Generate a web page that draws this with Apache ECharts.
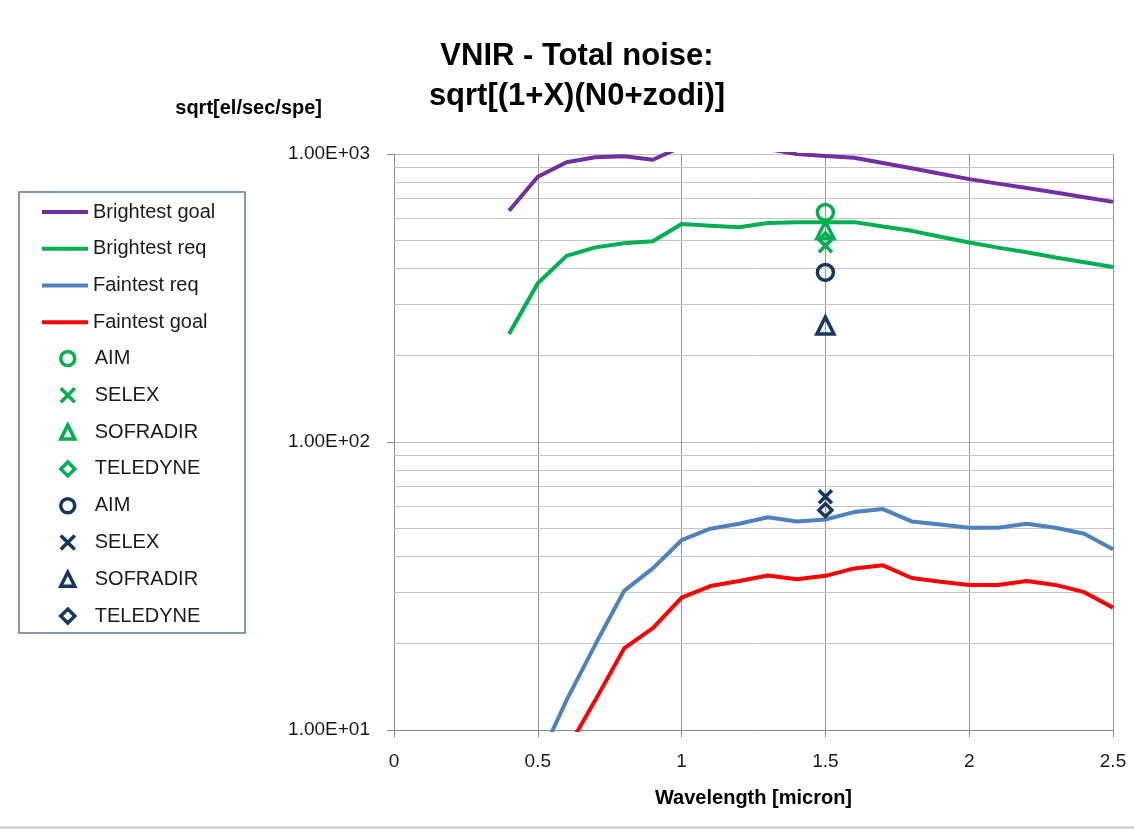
<!DOCTYPE html>
<html><head><meta charset="utf-8">
<script src="https://cdn.jsdelivr.net/npm/echarts@6/dist/echarts.min.js"></script>
<style>html,body{margin:0;padding:0;background:#fff}#c{width:1134px;height:829px}</style>
</head><body><div id="c"></div>
<script>
// ---- data ----
const wavelength    = [0.4, 0.5, 0.6, 0.7, 0.8, 0.9, 1.0, 1.1, 1.2, 1.3, 1.4, 1.5, 1.6, 1.7, 1.8, 1.9, 2.0, 2.1, 2.2, 2.3, 2.4, 2.5];
const brightestGoal = [635, 834, 936, 974, 982, 955, 1060, 1080, 1070, 1040, 1000, 985, 970, 931, 892, 854, 818, 789, 762, 735, 708, 682];
const brightestReq  = [237, 356, 443, 474, 490, 498, 571, 564, 557, 576, 580, 580, 580, 560, 541, 516, 493, 473, 456, 437, 421, 405];
const faintestReq   = [4.5, 7.7, 12.7, 19.8, 30.4, 36.4, 45.6, 50.0, 52.0, 54.8, 53.0, 53.8, 57.1, 58.5, 53.0, 51.7, 50.4, 50.4, 52.0, 50.4, 48.0, 42.4];
const faintestGoal  = [3.0, 5.0, 8.5, 12.7, 19.2, 22.6, 28.8, 31.6, 32.9, 34.4, 33.4, 34.3, 36.4, 37.3, 33.7, 32.7, 31.9, 31.9, 32.9, 31.9, 30.1, 26.6];
const detectorWavelength = 1.5;
const detectorNames  = ['AIM', 'SELEX', 'SOFRADIR', 'TELEDYNE'];
const brightDetector = [627, 480, 545, 505];
const faintDetector  = [388, 64.5, 254, 58];
const minorGridValues = [20, 30, 40, 50, 60, 70, 80, 90, 200, 300, 400, 500, 600, 700, 800, 900];

const lineNames  = ['Brightest goal', 'Brightest req', 'Faintest req', 'Faintest goal'];
const lineData   = [brightestGoal, brightestReq, faintestReq, faintestGoal];
const lineColors = ['#7030A0', '#00B050', '#4F81BD', '#FF0000'];
const GREEN = '#00B050', NAVY = '#17375E';
const symbols = ['circle', 'path://M0,0L10,10M10,0L0,10', 'triangle', 'diamond'];
const symbolSizes = [16, 13, 17, 13];
const FONT = 'Liberation Sans';

const series = [];
series.push({
  type: 'line', name: 'grid-minor', data: [], silent: true,
  markLine: {
    silent: true, symbol: 'none', z: 1, animation: false,
    label: { show: false },
    lineStyle: { color: '#C6C6C6', type: 'solid', width: 1 },
    emphasis: { disabled: true },
    data: minorGridValues.map(v => ({ yAxis: v }))
  }
});
lineData.forEach((arr, k) => {
  series.push({
    type: 'line', name: lineNames[k], symbol: 'none', clip: true, z: 3,
    data: wavelength.map((x, i) => [x, arr[i]]),
    lineStyle: { width: 4, color: lineColors[k] },
    itemStyle: { color: lineColors[k] }
  });
});
const markerSeries = (vals, color, tag) => detectorNames.map((n, i) => ({
  type: 'scatter', name: n + '|' + tag, z: 4,
  symbol: symbols[i], symbolSize: symbolSizes[i],
  data: [[detectorWavelength, vals[i]]],
  itemStyle: { color: 'rgba(0,0,0,0)', borderColor: color, borderWidth: 3.5, opacity: 1 }
}));
series.push(...markerSeries(brightDetector, GREEN, 'b'));
series.push(...markerSeries(faintDetector, NAVY, 'f'));

const chart = echarts.init(document.getElementById('c'), null, { renderer: 'canvas' });
chart.setOption({
  animation: false,
  backgroundColor: '#ffffff',
  title: {
    text: 'VNIR - Total noise:\nsqrt[(1+X)(N0+zodi)]',
    left: 572, top: 31, textAlign: 'center',
    textStyle: { fontFamily: FONT, fontSize: 31, fontWeight: 'bold', color: '#000', lineHeight: 40 }
  },
  grid: { left: 394, right: 21, top: 154, bottom: 99, containLabel: false },
  xAxis: {
    type: 'value', min: 0, max: 2.5, interval: 0.5,
    name: 'Wavelength [micron]', nameLocation: 'middle', nameGap: 58,
    nameTextStyle: { fontFamily: FONT, fontSize: 20, fontWeight: 'bold', color: '#000' },
    axisLine: { onZero: false, lineStyle: { color: '#8C8C8C', width: 1 } },
    axisTick: { show: true, length: 7, lineStyle: { color: '#8C8C8C' } },
    axisLabel: { margin: 22, fontFamily: FONT, fontSize: 19, color: '#1a1a1a' },
    splitLine: { show: true, lineStyle: { color: '#969696', width: 1 } }
  },
  yAxis: {
    type: 'log', logBase: 10, min: 10, max: 1000, splitNumber: 2,
    name: 'sqrt[el/sec/spe]', nameLocation: 'end', nameGap: 46,
    nameTextStyle: { fontFamily: FONT, fontSize: 20, fontWeight: 'bold', color: '#000',
                     align: 'right', verticalAlign: 'middle', padding: [0, 72, 0, 0] },
    axisLine: { show: true, lineStyle: { color: '#8C8C8C', width: 1 } },
    axisTick: { show: true, length: 7, lineStyle: { color: '#8C8C8C' } },
    axisLabel: {
      margin: 24, fontFamily: FONT, fontSize: 19, color: '#1a1a1a',
      formatter: v => {
        const [m, e] = v.toExponential(2).split('e');
        const ex = parseInt(e, 10);
        return m + 'E' + (ex < 0 ? '-' : '+') + String(Math.abs(ex)).padStart(2, '0');
      }
    },
    splitLine: { show: true, lineStyle: { color: '#BEBEBE', width: 1 } }
  },
  legend: [
    {
      orient: 'vertical', left: 42, top: 202, padding: 0,
      icon: 'rect', itemWidth: 46, itemHeight: 4, itemGap: 16.75,
      selectedMode: false, data: lineNames,
      textStyle: { fontFamily: FONT, fontSize: 20, color: '#1a1a1a' }
    },
    {
      orient: 'vertical', left: 59, top: 348.5, padding: 0,
      itemWidth: 14, itemHeight: 14, itemGap: 16.8,
      selectedMode: false,
      data: detectorNames.map(n => n + '|b').concat(detectorNames.map(n => n + '|f')),
      itemStyle: { borderWidth: 3.5 },
      formatter: n => n.split('|')[0],
      textStyle: { fontFamily: FONT, fontSize: 20, color: '#1a1a1a', padding: [0, 0, 0, 15] }
    }
  ],
  graphic: [
    { type: 'rect', silent: true, shape: { x: 19, y: 192, width: 226, height: 441 },
      style: { fill: 'none', stroke: '#5F7894', lineWidth: 1.5 } },
    { type: 'line', silent: true, shape: { x1: 0, y1: 827.5, x2: 1134, y2: 827.5 },
      style: { stroke: '#C8C8C8', lineWidth: 2 } }
  ],
  series: series
});
</script></body></html>
